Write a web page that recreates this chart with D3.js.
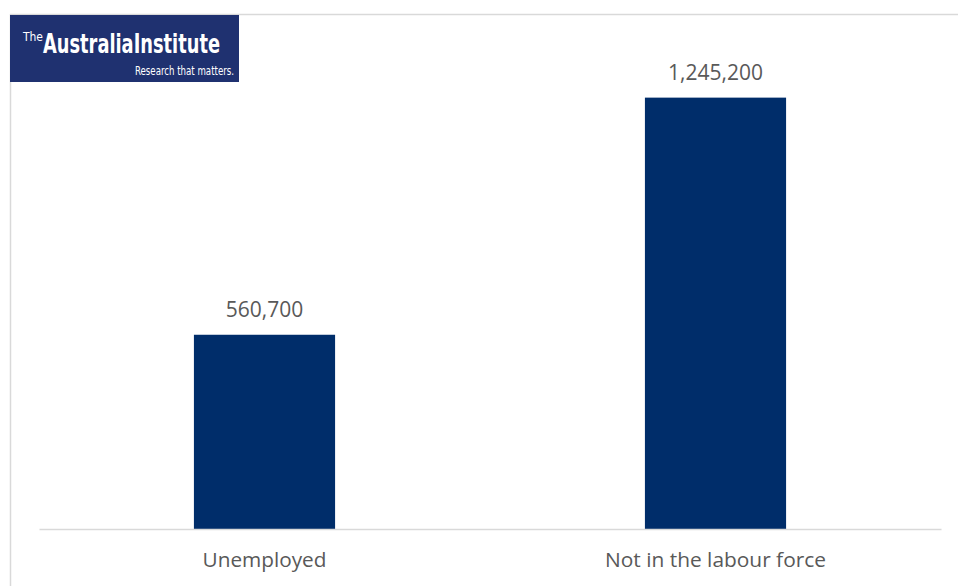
<!DOCTYPE html>
<html>
<head>
<meta charset="utf-8">
<script src="https://cdn.jsdelivr.net/npm/d3@7"></script>
<style>
  body { margin: 0; background: #fff; }
  svg { display: block; }
</style>
</head>
<body>
<script>
// Chart data
var categories = ["Unemployed", "Not in the labour force"];
var values = [560700, 1245200];
var valueLabels = ["560,700", "1,245,200"];

var width = 958, height = 586;
var plot = { left: 39, right: 941, top: 44, bottom: 529 };

var svg = d3.select("body").append("svg")
    .attr("width", width)
    .attr("height", height);

// Outer frame (light grey)
svg.append("line")
    .attr("x1", 10).attr("y1", 14.5).attr("x2", width).attr("y2", 14.5)
    .style("stroke", "#d9d9d9").style("stroke-width", 1.5);
svg.append("line")
    .attr("x1", 10.5).attr("y1", 14).attr("x2", 10.5).attr("y2", height)
    .style("stroke", "#d9d9d9").style("stroke-width", 1.5);

// Scales
var xScale = d3.scaleBand()
    .domain(categories)
    .range([plot.left, plot.right])
    .paddingInner(0.687)
    .paddingOuter(0.3435);

var yScale = d3.scaleLinear()
    .domain([0, 1400000])
    .range([plot.bottom, plot.top]);

// Bars
svg.selectAll("rect.bar")
    .data(values)
    .enter().append("rect")
    .attr("class", "bar")
    .attr("x", function (d, i) { return xScale(categories[i]); })
    .attr("y", function (d) { return yScale(d); })
    .attr("width", xScale.bandwidth())
    .attr("height", function (d) { return yScale(0) - yScale(d); })
    .style("fill", "#002d6a");

// Baseline axis
var xAxis = d3.axisBottom(xScale).tickSize(0).tickPadding(23);
var axisG = svg.append("g")
    .attr("transform", "translate(0," + plot.bottom + ")")
    .call(xAxis);
axisG.select(".domain").style("stroke", "#d9d9d9").style("stroke-width", 1.5);
axisG.selectAll("text")
    .style("font-family", "'Open Sans', 'Liberation Sans', sans-serif")
    .style("font-size", "20.5px")
    .style("fill", "#595959")
    .attr("textLength", function (d, i) { return [124, 221][i]; })
    .attr("lengthAdjust", "spacingAndGlyphs");

// Value labels
svg.selectAll("text.value")
    .data(values)
    .enter().append("text")
    .attr("class", "value")
    .attr("x", function (d, i) { return xScale(categories[i]) + xScale.bandwidth() / 2; })
    .attr("y", function (d) { return yScale(d) - 18; })
    .attr("text-anchor", "middle")
    .style("font-family", "'Open Sans', 'Liberation Sans', sans-serif")
    .style("font-size", "21px")
    .style("fill", "#595959")
    .text(function (d, i) { return valueLabels[i]; });

// Logo block
var logo = svg.append("g");
logo.append("rect")
    .attr("x", 10).attr("y", 15).attr("width", 229).attr("height", 67)
    .style("fill", "#1f3170");
logo.append("text")
    .attr("x", 23).attr("y", 41)
    .style("font-family", "'Liberation Sans Narrow', 'DejaVu Sans Condensed', sans-serif")
    .style("font-size", "13px")
    .style("fill", "#fff")
    .attr("textLength", 20).attr("lengthAdjust", "spacingAndGlyphs")
    .text("The");
logo.append("text")
    .attr("x", 43).attr("y", 53)
    .style("font-family", "'Liberation Sans Narrow', 'DejaVu Sans Condensed', sans-serif")
    .style("font-size", "27px")
    .style("font-weight", "bold")
    .style("fill", "#fff")
    .attr("textLength", 177).attr("lengthAdjust", "spacingAndGlyphs")
    .text("AustraliaInstitute");
logo.append("text")
    .attr("x", 135).attr("y", 75)
    .style("font-family", "'Liberation Sans Narrow', 'DejaVu Sans Condensed', sans-serif")
    .style("font-size", "12px")
    .style("fill", "#fff")
    .attr("textLength", 99).attr("lengthAdjust", "spacingAndGlyphs")
    .text("Research that matters.");
</script>
</body>
</html>
